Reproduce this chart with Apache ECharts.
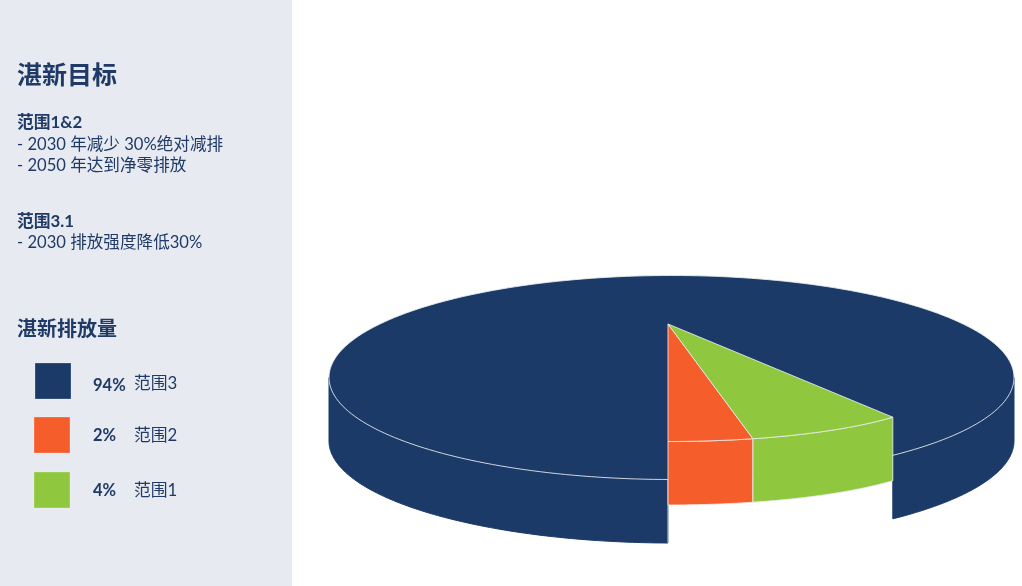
<!DOCTYPE html>
<html><head><meta charset="utf-8">
<style>html,body{margin:0;padding:0;background:#fff}#c{width:1022px;height:586px}</style>
<script src="https://cdn.jsdelivr.net/npm/echarts@6/dist/echarts.min.js"></script>
</head><body><div id="c"></div>
<script>
const categories = ['范围3', '范围2', '范围1'];
const shares = [94, 2, 4];
const colors = ['#1B3A68', '#F55D2B', '#8FC73E'];
const goalTitle = '湛新目标';
const scope12Title = '范围1&2';
const scope12Lines = ['- 2030 年减少 30%绝对减排', '- 2050 年达到净零排放'];
const scope3Title = '范围3.1';
const scope3Lines = ['- 2030 排放强度降低30%'];
const emissionsTitle = '湛新排放量';

const FONT = 'Lato, "Noto Sans CJK SC", sans-serif';
const INK = '#1F3A66';
const EDGE = 'rgba(235,238,240,0.85)';
const chart = echarts.init(document.getElementById('c'), null, {renderer: 'canvas'});

// Projected disc geometry
const disc = {cx: 671.5, cy: 377.5, rx: 342.5, ry: 102, depth: 63.5};
const wedge = {cx: 668, cy: 324, a: 269, b: 117.5, k: 0.47, degPerShare: 6.25};

function wedgePoint(deg) {
  const t = deg * Math.PI / 180;
  return [wedge.cx + wedge.a * Math.sin(t) * (1 + wedge.k * Math.cos(t)), wedge.cy + wedge.b * Math.cos(t)];
}
function wedgeArc(from, to) {
  const pts = [];
  for (let i = 0; i <= 30; i++) pts.push(wedgePoint(from + (to - from) * i / 30));
  return pts;
}
function discRimY(x) {
  const u = (x - disc.cx) / disc.rx;
  return disc.cy + disc.ry * Math.sqrt(Math.max(0, 1 - u * u));
}
function discSide(x0, x1) {
  const a0 = Math.acos(Math.max(-1, Math.min(1, (x0 - disc.cx) / disc.rx)));
  const a1 = Math.acos(Math.max(-1, Math.min(1, (x1 - disc.cx) / disc.rx)));
  const top = [];
  for (let i = 0; i <= 120; i++) {
    const t = a0 + (a1 - a0) * i / 120;
    top.push([disc.cx + disc.rx * Math.cos(t), disc.cy + disc.ry * Math.sin(t)]);
  }
  const bottom = top.slice().reverse().map(p => [p[0], p[1] + disc.depth]);
  return top.concat(bottom);
}
function discTop() {
  const pts = [];
  for (let i = 0; i < 240; i++) {
    const t = i / 240 * Math.PI * 2;
    pts.push([disc.cx + disc.rx * Math.cos(t), disc.cy + disc.ry * Math.sin(t)]);
  }
  return pts;
}
function poly(points, fill, stroke) {
  return {type: 'polygon', shape: {points}, style: {fill, stroke: stroke || fill, lineWidth: 1}};
}

function renderItem(params, api) {
  const idx = params.dataIndex;
  const color = colors[idx];
  const wedgeStart = shares.slice(1, idx).reduce((s, v) => s + v, 0) * wedge.degPerShare;
  const wedgeEnd = wedgeStart + (idx > 0 ? api.value(1) * wedge.degPerShare : 0);
  if (idx === 0) {
    const total = shares.slice(1).reduce((s, v) => s + v, 0) * wedge.degPerShare;
    const gapEndX = wedgePoint(total)[0];
    return {type: 'group', children: [
      poly(discSide(disc.cx - disc.rx, wedge.cx), color, color),
      poly(discSide(gapEndX, disc.cx + disc.rx), color, color),
      {type: 'line', shape: {x1: wedge.cx, y1: discRimY(wedge.cx), x2: wedge.cx, y2: discRimY(wedge.cx) + disc.depth}, style: {stroke: EDGE, lineWidth: 1}},
      poly(discTop(), color, EDGE)
    ]};
  }
  const arc = wedgeArc(wedgeStart, wedgeEnd);
  const side = arc.concat(arc.slice().reverse().map(p => [p[0], p[1] + disc.depth]));
  const top = [[wedge.cx, wedge.cy]].concat(arc);
  return {type: 'group', children: [poly(side, color, EDGE), poly(top, color, EDGE)]};
}

function txt(x, y, text, size, weight) {
  return {type: 'text', x, y, style: {text, fill: INK, font: (weight || 'normal') + ' ' + size + 'px ' + FONT, textVerticalAlign: 'middle', textBaseline: 'middle'}};
}

const legendY = [381, 435, 490];
const legendX = [35, 34, 34];
const legendGraphics = [];
categories.forEach((c, i) => {
  legendGraphics.push({type: 'rect', shape: {x: legendX[i], y: legendY[i] - 18, width: 36, height: 36},
    style: {fill: colors[i], stroke: 'rgba(255,255,255,0.25)', lineWidth: 1}});
  legendGraphics.push(txt(93, legendY[i] + (i === 0 ? 5 : 1), shares[i] + '%', 16.5, 'bold'));
  legendGraphics.push(txt(134, legendY[i] + (i === 0 ? 3 : 1), c, 16.8));
});

chart.setOption({
  animation: false,
  backgroundColor: '#fff',
  graphic: {elements: [
    {type: 'rect', z: -1, shape: {x: 0, y: 0, width: 292, height: 586}, style: {fill: '#E7EAF0'}},
    txt(17, 76, goalTitle, 25, 'bold'),
    txt(17, 123, scope12Title, 16.8, 'bold'),
    txt(17, 145, scope12Lines[0], 16.6),
    txt(17, 166, scope12Lines[1], 16.6),
    txt(17, 222, scope3Title, 16.8, 'bold'),
    txt(17, 243, scope3Lines[0], 16.6),
    txt(17, 330, emissionsTitle, 20, 'bold')
  ].concat(legendGraphics)},
  series: [{
    type: 'custom',
    coordinateSystem: 'none',
    renderItem,
    silent: true,
    data: categories.map((c, i) => ({name: c, value: [i, shares[i]]}))
  }]
});
</script></body></html>
